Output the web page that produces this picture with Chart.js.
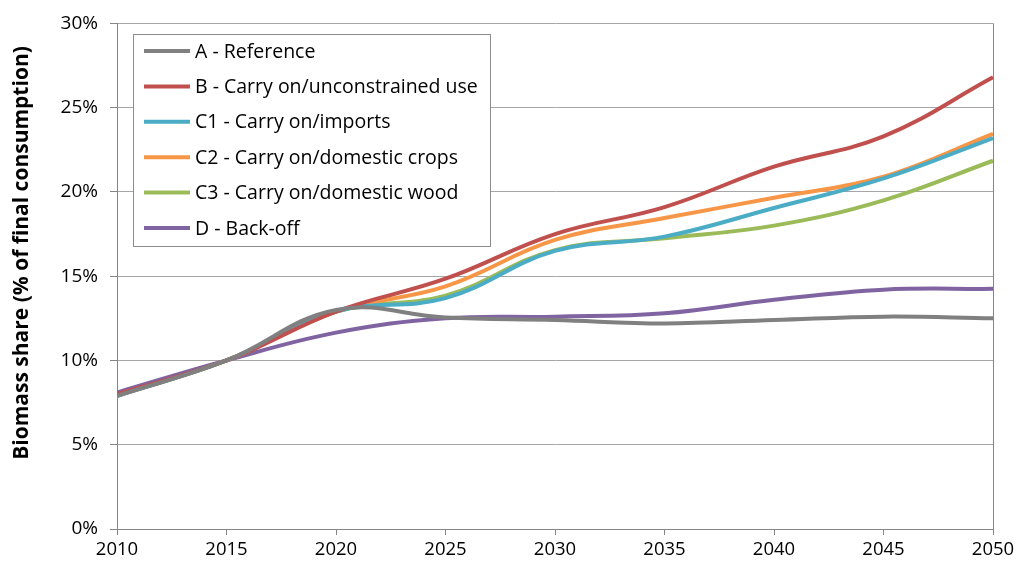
<!DOCTYPE html>
<html>
<head>
<meta charset="utf-8">
<script src="https://cdn.jsdelivr.net/npm/chart.js@4"></script>
<style>
    html, body { margin: 0; padding: 0; background: #fff; }
    #wrap { position: relative; width: 1019px; height: 567px; }
</style>
</head>
<body>
<div id="wrap"><canvas id="biomassChart"></canvas></div>
<script>
const years = [2010, 2015, 2020, 2025, 2030, 2035, 2040, 2045, 2050];
const reference = [7.9, 10.0, 13.0, 12.55, 12.4, 12.2, 12.4, 12.6, 12.5];
const carryOnUnconstrained = [8.0, 10.0, 12.9, 14.85, 17.5, 19.1, 21.5, 23.3, 26.8];
const carryOnImports = [7.9, 10.0, 12.9, 13.7, 16.5, 17.35, 19.05, 20.8, 23.2];
const carryOnCrops = [7.9, 10.0, 12.9, 14.4, 17.15, 18.45, 19.65, 20.9, 23.45];
const carryOnWood = [7.9, 10.0, 12.9, 13.85, 16.55, 17.25, 18.0, 19.5, 21.85];
const backOff = [8.1, 10.0, 11.65, 12.5, 12.6, 12.8, 13.6, 14.2, 14.25];

const yTicks = [0, 5, 10, 15, 20, 25, 30];
const xTicks = [2010, 2015, 2020, 2025, 2030, 2035, 2040, 2045, 2050];

const seriesLabels = [
    'A - Reference',
    'B - Carry on/unconstrained use',
    'C1 - Carry on/imports',
    'C2 - Carry on/domestic crops',
    'C3 - Carry on/domestic wood',
    'D - Back-off',
];
const seriesColors = ['#808080', '#c0504d', '#4bacc6', '#f79646', '#9bbb59', '#8064a2'];
const seriesValues = [reference, carryOnUnconstrained, carryOnImports, carryOnCrops, carryOnWood, backOff];
const yTitle = 'Biomass share (% of final consumption)';

const labelFont = "'Open Sans', sans-serif";

// legend box inside the plot area + rotated axis title, like the Excel original
const insideLegend = {
    id: 'insideLegend',
    afterDatasetsDraw(chart) {
        const ctx = chart.ctx;
        const left = 133, top = 34, width = 357, height = 212;
        ctx.save();
        ctx.fillStyle = '#ffffff';
        ctx.fillRect(left, top, width, height);
        ctx.strokeStyle = '#8c8c8c';
        ctx.lineWidth = 1;
        ctx.strokeRect(left + 0.5, top + 0.5, width, height);
        ctx.font = '19.5px ' + labelFont;
        ctx.textBaseline = 'middle';
        chart.data.datasets.forEach((ds, i) => {
            const y = top + 17 + i * 35.4;
            ctx.strokeStyle = ds.borderColor;
            ctx.lineWidth = 4;
            ctx.beginPath();
            ctx.moveTo(144, y);
            ctx.lineTo(190, y);
            ctx.stroke();
            ctx.fillStyle = '#000';
            ctx.fillText(ds.label, 195, y + 1);
        });

        ctx.translate(22, 253);
        ctx.rotate(-Math.PI / 2);
        ctx.textAlign = 'center';
        ctx.font = 'bold 21px ' + labelFont;
        ctx.fillText(yTitle, 0, 0);
        ctx.restore();
    },
};

const ctx = document.getElementById('biomassChart');
new Chart(ctx, {
    type: 'line',
    data: {
        datasets: seriesLabels.map((label, i) => ({
            label,
            data: years.map((year, j) => ({ x: year, y: seriesValues[i][j] })),
            borderColor: seriesColors[i],
            backgroundColor: seriesColors[i],
            borderWidth: 4,
            pointRadius: 0,
            tension: 0.4,
            fill: false,
        })),
    },
    options: {
        responsive: true,
        maintainAspectRatio: false,
        animation: false,
        layout: { padding: { top: 20, right: 26, left: 0, bottom: 0 } },
        plugins: {
            legend: { display: false },
            tooltip: { enabled: false },
        },
        scales: {
            x: {
                type: 'linear',
                min: 2010,
                max: 2050,
                afterBuildTicks: (scale) => { scale.ticks = xTicks.map((v) => ({ value: v })); },
                afterFit: (scale) => { scale.height = 38; },
                ticks: {
                    color: '#000',
                    font: { family: labelFont, size: 18.5 },
                    padding: 4,
                    maxRotation: 0,
                    callback: (v) => String(v),
                },
                border: { display: true, color: '#868686', width: 1 },
                grid: {
                    drawOnChartArea: true,
                    color: (c) => (c.tick && c.tick.value === 2050 ? '#868686' : 'rgba(0,0,0,0)'),
                    tickColor: '#868686',
                    tickLength: 6,
                },
            },
            y: {
                min: 0,
                max: 30,
                afterBuildTicks: (scale) => { scale.ticks = yTicks.map((v) => ({ value: v })); },
                afterFit: (scale) => { scale.width = 117; },
                ticks: {
                    color: '#000',
                    font: { family: labelFont, size: 19 },
                    padding: 12,
                    callback: (v) => v + '%',
                },
                border: { display: true, color: '#868686', width: 1 },
                grid: {
                    color: '#a6a6a6',
                    tickColor: '#868686',
                    tickLength: 7,
                },
            },
        },
    },
    plugins: [insideLegend],
});
</script>
</body>
</html>
